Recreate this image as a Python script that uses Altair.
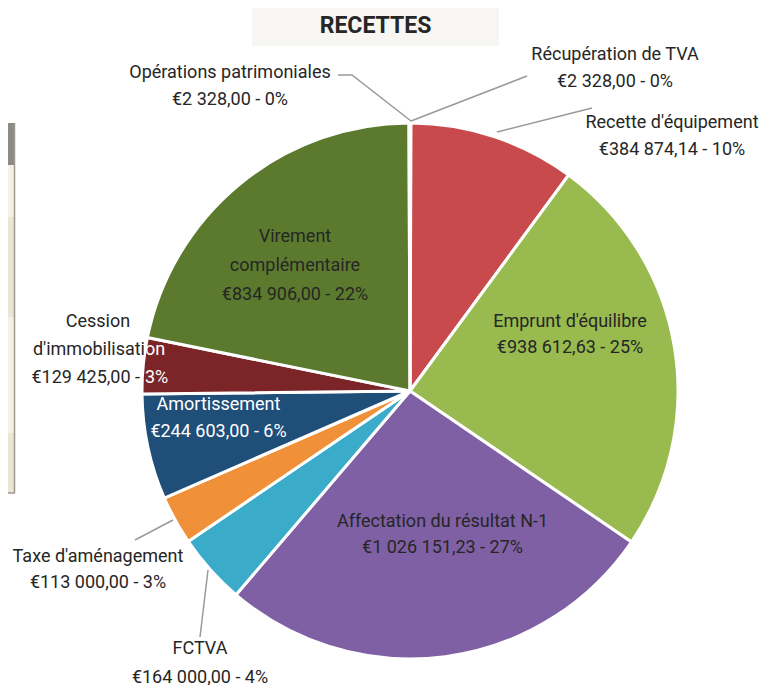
import altair as alt
import pandas as pd

# ---------------- data ----------------
categories = ["Récupération de TVA", "Recette d'équipement", "Emprunt d'équilibre",
              "Affectation du résultat N-1", "FCTVA", "Taxe d'aménagement",
              "Amortissement", "Cession d'immobilisation", "Virement complémentaire",
              "Opérations patrimoniales"]
amounts = [2328.00, 384874.14, 938612.63, 1026151.23, 164000.00, 113000.00,
           244603.00, 129425.00, 834906.00, 2328.00]
percents = [0, 10, 25, 27, 4, 3, 6, 3, 22, 0]
name_lines = [["Récupération de TVA"], ["Recette d'équipement"], ["Emprunt d'équilibre"],
              ["Affectation du résultat N-1"], ["FCTVA"], ["Taxe d'aménagement"],
              ["Amortissement"], ["Cession", "d'immobilisation"], ["Virement", "complémentaire"],
              ["Opérations patrimoniales"]]
colors = ["#4f81bd", "#c94a4c", "#98ba4f", "#7f60a5", "#3aabc9", "#f0913a",
          "#1f4e79", "#7b2528", "#5b7a2d", "#5b7a2d"]

# ---------------- layout (label placement, chart pixel coords) ----------------
label_cx = [607, 664, 562, 434.5, 192, 90, 210.5, 90, 287, 222]
label_cy = [60.5, 128.5, 327, 527, 655, 562, 410.5, 342, 258, 78.5]
label_lh = [27, 27, 26, 26, 29, 26, 27, 28, 29, 27]
label_col = ["#262626"] * 6 + ["#ffffff"] + ["#262626"] * 3

leader_lines = {
    "Opérations patrimoniales": [(330, 67), (344, 67), (403, 113)],
    "Récupération de TVA": [(403, 113), (519, 68)],
    "Recette d'équipement": [(489, 124), (584, 100)],
    "Taxe d'aménagement": [(165, 512), (127, 532)],
    "FCTVA": [(200, 562), (192, 629)],
}

FONT = "Roboto"
FS = 18
CX, CY, R = 402, 383, 268
SPLIT_X = 137  # where the Cession label meets its slice


def euro(v):
    s = f"{v:,.2f}"
    ent, dec = s.split(".")
    return "€" + ent.replace(",", " ") + "," + dec


pie_df = pd.DataFrame({"cat": categories, "value": amounts, "order": list(range(len(categories)))})

rows = []
for i, c in enumerate(categories):
    lines = name_lines[i] + [f"{euro(amounts[i])} - {percents[i]}%"]
    n = len(lines)
    for j, t in enumerate(lines):
        y = label_cy[i] + (j - (n - 1) / 2) * label_lh[i]
        if c == "Cession d'immobilisation" and j == 1:
            rows.append({"text": "d'immobilisati", "x": SPLIT_X, "y": y, "color": "#262626", "align": "right"})
            rows.append({"text": "on", "x": SPLIT_X, "y": y, "color": "#ffffff", "align": "left"})
        elif c == "Cession d'immobilisation" and j == 2:
            rows.append({"text": f"{euro(amounts[i])} -", "x": SPLIT_X - 5, "y": y, "color": "#262626", "align": "right"})
            rows.append({"text": f"{percents[i]}%", "x": SPLIT_X, "y": y, "color": "#ffffff", "align": "left"})
        else:
            rows.append({"text": t, "x": label_cx[i], "y": y, "color": label_col[i], "align": "center"})
lab_df = pd.DataFrame(rows)

line_rows = []
for k, pts in leader_lines.items():
    for j, (x, y) in enumerate(pts):
        line_rows.append({"id": k, "i": j, "x": x, "y": y})
line_df = pd.DataFrame(line_rows)

# partial table at the left edge (decor)
tab_df = pd.DataFrame({
    "x": [0, 0, 0, 0, 0], "x2": [6, 6, 6, 6, 6],
    "y": [115, 157, 209, 309, 425], "y2": [157, 209, 309, 425, 485],
    "fill": ["#8c8a84", "#f4f0e4", "#ebe5d3", "#f4f0e4", "#ebe5d3"],
})

title_df = pd.DataFrame({"x": [244], "x2": [491], "y": [0], "y2": [38], "t": ["RECETTES"], "tx": [367.5], "ty": [18]})

tab = alt.Chart(tab_df).mark_rect().encode(
    x=alt.X("x:Q", scale=None), x2="x2", y=alt.Y("y:Q", scale=None), y2="y2",
    fill=alt.Fill("fill:N", scale=None))
tab_border = alt.Chart(pd.DataFrame({"a": [1]})).mark_rule(color="#9d9990", strokeWidth=1.5).encode(
    x=alt.value(6.5), y=alt.value(115), y2=alt.value(485))
tab_border2 = alt.Chart(pd.DataFrame({"a": [1]})).mark_rule(color="#9d9990", strokeWidth=1.5).encode(
    x=alt.value(0), x2=alt.value(7), y=alt.value(485))

title_box = alt.Chart(title_df).mark_rect(color="#f7f6f2").encode(
    x=alt.X("x:Q", scale=None), x2="x2", y=alt.Y("y:Q", scale=None), y2="y2")
title_txt = alt.Chart(title_df).mark_text(font=FONT, fontSize=23, fontWeight="bold",
                                          color="#262626", baseline="middle").encode(
    x=alt.X("tx:Q", scale=None), y=alt.Y("ty:Q", scale=None), text="t:N")

pie = alt.Chart(pie_df).mark_arc(radius=R, stroke="white", strokeWidth=3).encode(
    theta=alt.Theta("value:Q", stack=True),
    order=alt.Order("order:Q"),
    color=alt.Color("cat:N", scale=alt.Scale(domain=categories, range=colors), legend=None),
    x=alt.value(CX), y=alt.value(CY))

leaders = alt.Chart(line_df).mark_line(color="#9a9a9a", strokeWidth=1.5).encode(
    x=alt.X("x:Q", scale=None), y=alt.Y("y:Q", scale=None),
    detail="id:N", order="i:Q")


def text_layer(df, align):
    return alt.Chart(df).mark_text(font=FONT, fontSize=FS, baseline="middle", align=align).encode(
        x=alt.X("x:Q", scale=None), y=alt.Y("y:Q", scale=None), text="text:N",
        color=alt.Color("color:N", scale=None))


labels = [text_layer(lab_df[lab_df["align"] == a], a) for a in ["center", "left", "right"]]

chart = alt.layer(tab, tab_border, tab_border2, title_box, title_txt, pie,
                  leaders, *labels).properties(
    width=762, height=677, autosize=alt.AutoSizeParams(type="none"), padding=0
).configure_view(stroke=None).resolve_scale(color="independent")

chart.save("out.html", embed_options={"renderer": "svg", "actions": False})
